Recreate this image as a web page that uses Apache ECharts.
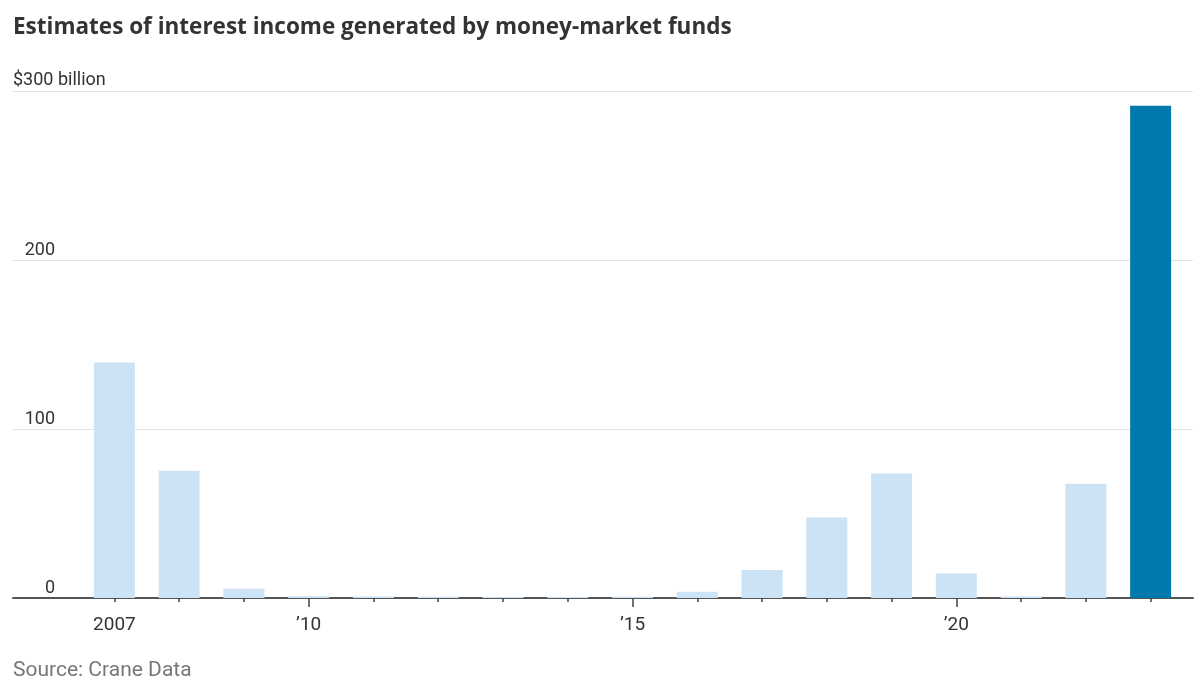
<!DOCTYPE html>
<html>
<head>
<meta charset="utf-8">
<script src="https://cdn.jsdelivr.net/npm/echarts@6/dist/echarts.min.js"></script>
<style>
  html, body { margin: 0; padding: 0; background: #fff; }
  #chart { width: 1203px; height: 693px; }
</style>
</head>
<body>
<div id="chart"></div>
<script>
// interest income, $ billion, by year
var years = ['2007', '2008', '2009', '2010', '2011', '2012', '2013', '2014', '2015',
             '2016', '2017', '2018', '2019', '2020', '2021', '2022', '2023'];
var income = [139.4, 75.3, 5.5, 1.0, 0.9, 0.8, 0.6, 0.6, 0.8,
              3.7, 16.5, 47.7, 73.6, 14.5, 0.9, 67.6, 291.3];
var yTicks = [0, 100, 200, 300];
var xLabels = { '2007': '2007', '2010': '\u201910', '2015': '\u201915', '2020': '\u201920' };

var font = 'Roboto, "Noto Sans", sans-serif';
var chart = echarts.init(document.getElementById('chart'));

chart.setOption({
  animation: false,
  title: {
    text: 'Estimates of interest income generated by money-market funds',
    left: 13,
    top: 16,
    padding: 0,
    textStyle: { fontFamily: '"Open Sans", sans-serif', fontSize: 22.5, fontWeight: 'bold', color: '#333' }
  },
  graphic: [
    {
      type: 'text', left: 13, top: 71,
      style: { text: '$300 billion', font: '18px ' + font, fill: '#333' }
    },
    {
      type: 'text', left: 13, top: 660,
      style: { text: 'Source: Crane Data', font: '21px ' + font, fill: '#777' }
    }
  ],
  grid: [
    { left: 13, right: 10, top: 91, bottom: 95 },    // full width: gridlines + base line
    { left: 82, right: 20, top: 91, bottom: 95 }     // bars
  ],
  xAxis: [
    {
      gridIndex: 0, type: 'value', min: 0, max: 1,
      axisLine: { show: true, onZero: false, lineStyle: { color: '#555', width: 2 } },
      axisTick: { show: false }, axisLabel: { show: false }, splitLine: { show: false }
    },
    {
      gridIndex: 1, type: 'category', data: years, position: 'bottom',
      axisLine: { show: false },
      axisTick: { show: true, alignWithLabel: true, interval: 0, length: 4,
                  lineStyle: { color: '#444', width: 1.5 } },
      axisLabel: {
        interval: 0, margin: 18, fontFamily: font, fontSize: 19, color: '#333',
        formatter: function (v) { return xLabels[v] || ''; }
      }
    },
    {
      gridIndex: 1, type: 'category', data: years, position: 'bottom',
      axisLine: { show: false },
      axisTick: { show: true, alignWithLabel: true, length: 9,
                  interval: function (i, v) { return v === '2010' || v === '2015' || v === '2020'; },
                  lineStyle: { color: '#444', width: 1.5 } },
      axisLabel: { show: false }
    }
  ],
  yAxis: [
    {
      gridIndex: 0, type: 'value', min: 0, max: 300, interval: 100,
      axisLine: { show: false }, axisTick: { show: false },
      splitLine: { lineStyle: { color: '#e2e2e2', width: 1 } },
      axisLabel: {
        inside: true, align: 'right', verticalAlign: 'bottom', margin: 42,
        fontFamily: font, fontSize: 18, color: '#333', padding: [0, 0, 1, 0],
        formatter: function (v) { return v === yTicks[yTicks.length - 1] ? '' : String(v); }
      }
    },
    {
      gridIndex: 1, type: 'value', min: 0, max: 300, interval: 100,
      axisLine: { show: false }, axisTick: { show: false },
      axisLabel: { show: false }, splitLine: { show: false }
    }
  ],
  series: [
    {
      type: 'bar',
      xAxisIndex: 1,
      yAxisIndex: 1,
      barWidth: 41,
      z: 1,
      data: income.map(function (v, i) {
        return {
          value: v,
          itemStyle: { color: i === income.length - 1 ? '#0079ad' : '#cce3f5' }
        };
      })
    }
  ]
});

window.addEventListener('resize', function () {
  if (chart) chart.resize();
});
</script>
</body>
</html>
